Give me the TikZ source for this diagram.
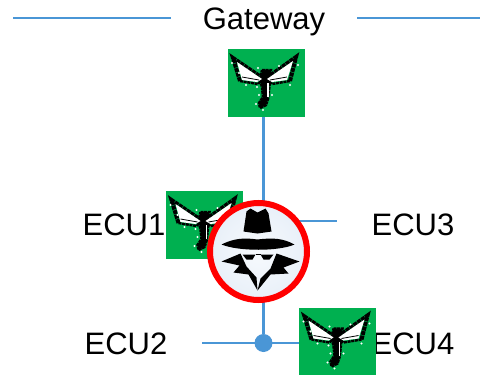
\documentclass[tikz,border=0pt]{standalone}
\usepackage{fontspec}
\setmainfont{Liberation Sans}
\definecolor{busblue}{HTML}{4A96D6}
\definecolor{ecugreen}{HTML}{00B050}
\definecolor{glowa}{HTML}{F7FAFD}
\definecolor{glowb}{HTML}{EAF1F9}
\definecolor{glowc}{HTML}{D6E3F2}
\definecolor{glowd}{HTML}{BFD3E9}
\pgfdeclareradialshading{spyglow}{\pgfpoint{0bp}{0bp}}{color(0bp)=(glowa); color(22bp)=(glowb); color(38bp)=(glowc); color(50bp)=(glowd)}
\tikzset{
  busline/.style={draw=busblue, line width=2.4pt},
  label/.style={font=\fontsize{31}{36}\selectfont, inner sep=0pt},
  ecubox/.style={fill=ecugreen, minimum width=77pt, minimum height=68pt, inner sep=0pt},
  bug/.pic={
    \draw[black, line width=2.5pt, dash pattern=on 3pt off 0.7pt, fill=black] (-4,-13) -- (5,-13) -- (4,-3) -- (3,8) -- (2,16) -- (0,22) -- (-6,25) -- (-7,20) -- (-3,14) -- (-4,4) -- (-6,-3) -- cycle;
    \draw[black, line width=2.4pt, dash pattern=on 3pt off 0.7pt] (-26,-2) -- (-8,1) -- (-3,-4);
    \draw[black, line width=2.4pt, dash pattern=on 3pt off 0.7pt] (24,-2) -- (6,1) -- (1,-4);
    \draw[black, line width=4pt, dash pattern=on 4pt off 0.7pt] (-26,-2) -- (-33,-25) -- (-5,-6);
    \draw[black, line width=4pt, dash pattern=on 4pt off 0.7pt] (24,-2) -- (30,-26) -- (2,-6);
    \fill[white] (-29,-21) -- (-4,-4) -- (-9,-1) -- (-24,-3) -- cycle;
    \fill[white] (27,-22) -- (1,-4) -- (6,-1) -- (21,-3) -- cycle;
    \draw[black, line width=0.8pt] (-24,-6) -- (-7,-3);
    \draw[black, line width=0.8pt] (21,-6) -- (4,-3);
    \draw[white, line width=1.2pt] (2,0) -- (2,14);
    \foreach \spotx/\spoty in {-34/-20,-27/-10,-20/2,-9/4,-7/12,-10/21,-3/27,6/12,24/2,32/-18,13/-17,-8/-15}
      \fill[white] (\spotx,\spoty) circle (1.1pt);
  },
  spy/.pic={
    \fill[black] (-15,-20) -- (-12,-40) -- (-8,-43) -- (-1,-39) -- (7,-43) -- (10,-38) -- (13,-20) -- (-1,-18) -- cycle;
    \fill[black] (-37,-7) .. controls (-25,-13) and (-15,-14) .. (-1,-12) .. controls (15,-14) and (25,-13) .. (36,-7) .. controls (20,0) and (-20,0) .. cycle;
    \fill[black] (-37,10) -- (-18,2) -- (-12,15) -- (-2,26) -- (-1,39) -- (-10,23) -- (-25,21) -- (-19,14) -- cycle;
    \fill[black] (41,10) -- (18,2) -- (12,17) -- (2,27) -- (-1,39) -- (12,23) -- (30,22) -- (25,16) -- cycle;
    \fill[black] (-16,3) -- (-3,3) -- (-6,8) -- (-12,8) -- cycle;
    \fill[black] (2,3) -- (15,3) -- (11,8) -- (5,8) -- cycle;
    \draw[black, line width=0.8pt] (-3,3) -- (2,3);
  }
}
\begin{document}
\begin{tikzpicture}[x=1pt,y=-1pt]
\useasboundingbox (0,0) rectangle (480,375);
\coordinate (gwleft1) at (13,18);
\coordinate (gwleft2) at (171,18);
\coordinate (gwright1) at (357,18);
\coordinate (gwright2) at (480,18);
\coordinate (tap) at (263.5,221);
\coordinate (ecu3end) at (337,221);
\coordinate (ecu2end) at (202,343);
\node[label] (gatewaytext) at (264,22) {Gateway};
\node[label] (ecu1text) at (124,225) {ECU1};
\node[label] (ecu2text) at (126,344) {ECU2};
\node[label] (ecu3text) at (413,225) {ECU3};
\node[label] (ecu4text) at (413,344) {ECU4};
\node[ecubox] (gateway) at (266,83) {};
\node[ecubox] (ecu1) at (204.5,225) {};
\node[ecubox] (ecu4) at (337.5,341.5) {};
\node[circle, fill=busblue, minimum size=18pt, inner sep=0pt] (junction) at (263.5,343) {};
\draw[busline] (gwleft1) -- (gwleft2);
\draw[busline] (gwright1) -- (gwright2);
\draw[busline] (junction |- gateway.south) -- (junction);
\draw[busline] (tap) -- (ecu3end);
\draw[busline] (ecu2end) -- (ecu2end -| ecu4.west);
\pic at (gateway) {bug};
\pic at (ecu1) {bug};
\pic at (ecu4) {bug};
\node[circle, draw=red, line width=6pt, shading=spyglow, minimum size=97pt, inner sep=0pt] (spycircle) at (258.5,251.5) {};
\pic at (spycircle) {spy};
\end{tikzpicture}
\end{document}
